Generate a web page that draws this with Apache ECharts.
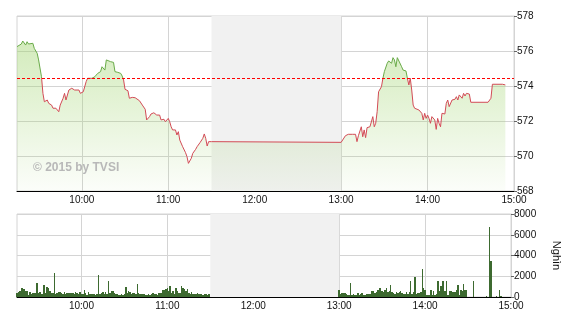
<!DOCTYPE html>
<html>
<head>
<meta charset="utf-8">
<script src="https://cdn.jsdelivr.net/npm/echarts@6/dist/echarts.min.js"></script>
<style>html,body{margin:0;padding:0;background:#fff}#c{width:570px;height:320px}</style>
</head>
<body>
<div id="c"></div>
<script>
// ---- DATA ----
const refPrice = 574.46;
const priceTimes = ["09:15","09:18","09:19","09:21","09:22","09:23","09:24","09:26","09:27","09:29","09:30","09:32","09:33","09:34","09:36","09:37","09:39","09:40","09:42","09:44","09:45","09:47","09:48","09:49","09:51","09:52","09:53","09:55","09:56","09:58","09:59","10:01","10:03","10:04","10:07","10:09","10:11","10:13","10:14","10:16","10:17","10:18","10:20","10:22","10:23","10:25","10:27","10:28","10:29","10:30","10:32","10:33","10:35","10:37","10:38","10:40","10:42","10:43","10:44","10:45","10:47","10:48","10:50","10:52","10:54","10:55","10:57","10:58","10:59","11:00","11:01","11:02","11:03","11:05","11:06","11:07","11:08","11:09","11:10","11:12","11:13","11:14","11:16","11:17","11:19","11:20","11:22","11:24","11:25","11:26","11:27","11:28","11:29","11:30",
"13:00","13:01","13:03","13:05","13:06","13:08","13:10","13:11","13:12","13:14","13:15","13:16","13:17","13:18","13:20","13:21","13:22","13:23","13:24","13:25","13:26","13:28","13:29","13:30","13:32","13:33","13:35","13:36","13:37","13:38","13:39","13:40","13:42","13:43","13:45","13:46","13:47","13:48","13:49","13:50","13:51","13:52","13:54","13:55","13:56","13:57","13:58","13:59","14:00","14:01","14:02","14:03","14:05","14:06","14:07","14:08","14:09","14:10","14:12","14:13","14:14","14:15","14:17","14:18","14:19","14:20","14:21","14:22","14:24","14:25","14:26","14:27","14:28","14:29","14:30","14:42","14:44","14:45","14:52","14:54"];
const priceValues = [576.25,576.40,576.57,576.34,576.53,576.40,576.50,576.44,576.15,575.87,575.49,574.53,573.58,573.10,573.20,573.01,572.91,572.73,572.73,572.53,572.91,573.30,573.58,573.20,573.77,573.67,573.87,573.77,573.67,573.77,573.58,573.67,574.25,574.44,574.44,574.53,574.72,574.82,575.10,574.91,575.49,575.58,575.39,575.35,574.82,574.78,574.72,574.57,574.34,573.81,573.73,573.30,573.35,573.33,573.24,573.16,572.91,573.01,572.67,572.06,572.25,572.40,572.47,572.34,572.34,572.06,572.10,571.96,571.87,572.15,571.96,571.67,571.49,571.49,571.20,571.39,570.91,571.01,570.53,570.19,569.96,569.58,569.87,570.15,570.38,570.53,570.76,571.01,571.26,571.01,570.57,570.82,570.88,570.82,
570.78,570.76,571.16,571.24,571.33,571.24,571.24,570.82,571.16,571.67,571.10,571.49,571.05,571.62,571.67,571.77,572.25,571.67,571.87,572.53,573.67,573.96,574.44,574.82,575.30,575.43,575.30,575.62,575.49,575.10,575.62,575.62,575.10,574.91,574.86,574.44,574.06,574.44,573.77,572.91,572.73,572.82,572.63,572.53,572.44,572.06,572.44,572.15,572.34,572.15,571.87,572.25,572.06,571.52,572.15,571.87,571.67,572.44,572.40,573.01,573.20,572.82,573.20,573.10,573.24,573.39,573.20,573.49,573.30,573.58,573.43,573.58,573.54,573.54,573.07,573.07,573.30,574.10,574.10,574.06];
// volume (thousand shares), one value per minute
const volMorningStart = "09:15";
const volMorning = [385,480,550,870,870,740,610,610,225,480,
290,385,385,385,1380,385,480,290,300,1190,
420,930,870,550,420,385,2345,290,385,480,
480,385,290,480,290,385,385,385,350,420,
320,480,385,290,480,320,300,710,385,225,
480,320,300,290,290,225,300,2150,290,385,
480,300,480,290,1575,385,550,550,385,290,
290,225,225,290,225,300,960,385,610,480,
290,385,385,290,1250,385,290,290,290,290,
225,190,290,225,290,385,320,320,225,385,
385,385,710,710,770,870,550,1030,420,610,
290,870,550,420,385,1030,870,770,550,770,
385,290,480,290,320,290,385,290,290,290,
225,290,290,225,290];
const volAfternoonStart = "13:00";
const volAfternoon = [710,290,385,385,385,290,225,225,1380,190,
290,225,225,385,190,290,385,225,225,320,
290,290,290,550,610,385,480,710,870,870,
610,480,710,830,480,610,1190,480,385,290,
480,385,480,610,385,290,290,480,290,480,
1510,290,480,1895,290,385,385,480,2730,870,
700,160,225,225,700,225,545,225,300,1510,
545,1030,1510,1510,545,1510,225,545,545,450,
450,450,700,1190,225,700,545,1285,700,700,
0,0,0,0,1575,0,0,0,0,0,
0,0,0,130,0,6740,3500,0,0,0,
130,0,640,130];
const sessionStart = "09:15", sessionEnd = "15:00";
const breakStart = "11:30", breakEnd = "13:00";
const timeTicks = ["10:00","11:00","12:00","13:00","14:00","15:00"];
const priceTicks = {min: 568, max: 578, step: 2};
const volTicks = {min: 0, max: 8000, step: 2000};
const volUnit = "Nghìn";
const watermark = "© 2015 by TVSI";

// ---- helpers: time as minutes since midnight ----
function tm(hhmm) { const p = hhmm.split(':').map(Number); return p[0] * 60 + p[1]; }
function pad(n) { return (n < 10 ? '0' : '') + n; }
function fmt(v) { v = Math.round(v); return pad(Math.floor(v / 60)) + ':' + pad(v % 60); }

const priceData = priceTimes.map((t, i) => [tm(t), priceValues[i]]);
const volData = [];
volMorning.forEach((v, i) => { if (v > 0) volData.push([tm(volMorningStart) + i, v]); });
volAfternoon.forEach((v, i) => { if (v > 0) volData.push([tm(volAfternoonStart) + i, v]); });
const tickVals = timeTicks.map(tm);

const FONT = '"Liberation Sans",Arial,sans-serif';
const GRID_C = '#d4d4d4';

function xAxis(gi) {
  return {
    type: 'value', gridIndex: gi, min: tm(sessionStart), max: tm(sessionEnd),
    splitLine: {show: true, lineStyle: {color: GRID_C, width: 1}},
    axisLine: {show: true, onZero: false, lineStyle: {color: '#000', width: 1}},
    axisTick: {show: false, customValues: tickVals},
    axisLabel: {customValues: tickVals, formatter: fmt, color: '#111', fontSize: 10, fontFamily: FONT, margin: 4}
  };
}
function yAxis(gi, t, extra) {
  return Object.assign({
    type: 'value', gridIndex: gi, position: 'right', min: t.min, max: t.max, interval: t.step,
    splitLine: {show: true, lineStyle: {color: GRID_C}},
    axisLine: {show: true, lineStyle: {color: GRID_C}},
    axisTick: {show: true, length: 3, lineStyle: {color: '#666'}},
    axisLabel: {color: '#111', fontSize: 10, fontFamily: FONT, margin: 3, formatter: v => String(v)}
  }, extra || {});
}

const bandArea = {
  silent: true,
  itemStyle: {color: '#f1f1f1'},
  data: [[{xAxis: tm(breakStart)}, {xAxis: tm(breakEnd)}]]
};

const chart = echarts.init(document.getElementById('c'), null, {renderer: 'canvas'});
chart.setOption({
  animation: false,
  backgroundColor: '#fff',
  grid: [
    {left: 17, right: 56, top: 16, height: 175, show: true, borderColor: GRID_C, borderWidth: 1},
    {left: 17, right: 56, top: 214, height: 83, show: true, borderColor: GRID_C, borderWidth: 1}
  ],
  xAxis: [xAxis(0), xAxis(1)],
  yAxis: [
    yAxis(0, priceTicks),
    yAxis(1, volTicks, {name: volUnit, nameLocation: 'middle', nameRotate: -90, nameGap: 40,
      nameTextStyle: {color: '#111', fontSize: 11, fontFamily: FONT}})
  ],
  visualMap: {
    show: false, type: 'piecewise', seriesIndex: 2, dimension: 1,
    pieces: [{min: refPrice, max: 600, color: '#69aa48'}, {min: 500, max: refPrice, color: '#d24a55'}]
  },
  graphic: [{
    type: 'text', left: 33, top: 162, z: 10, silent: true,
    style: {text: watermark, font: 'bold 12px ' + FONT, fill: '#b8b8b8'}
  }],
  series: [
    {type: 'line', xAxisIndex: 0, yAxisIndex: 0, data: [], z: 1, markArea: bandArea},
    {type: 'line', xAxisIndex: 0, yAxisIndex: 0, data: [], z: 2,
      markLine: {silent: true, symbol: 'none', label: {show: false},
        lineStyle: {color: '#ff0000', type: [3, 2], width: 1}, data: [{yAxis: refPrice}]}},
    {type: 'line', xAxisIndex: 0, yAxisIndex: 0, data: priceData, z: 3, showSymbol: false, symbol: 'none',
      lineStyle: {width: 1},
      areaStyle: {origin: 'start', color: new echarts.graphic.LinearGradient(0, 0, 0, 1, [
        {offset: 0, color: 'rgba(160,212,110,0.66)'},
        {offset: 1, color: 'rgba(160,212,110,0.05)'}])}},
    {type: 'line', xAxisIndex: 1, yAxisIndex: 1, data: [], z: 1, markArea: bandArea},
    {type: 'custom', xAxisIndex: 1, yAxisIndex: 1, data: volData, z: 3, encode: {x: 0, y: 1},
      renderItem: function (params, api) {
        const t = api.value(0);
        const top = api.coord([t, api.value(1)]);
        const base = api.coord([t, 0]);
        const l = Math.round(api.coord([t - 0.5, 0])[0]);
        const r = Math.round(api.coord([t + 0.5, 0])[0]);
        return {type: 'rect', shape: {x: l, y: Math.round(top[1]), width: Math.max(1, r - l), height: Math.round(base[1]) - Math.round(top[1])},
          style: {fill: '#3d6a30'}};
      }}
  ]
});
</script>
</body>
</html>
